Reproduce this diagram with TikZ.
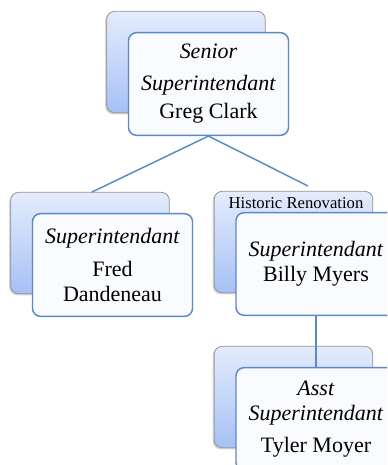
\documentclass[tikz,border=0pt]{standalone}
\usepackage{fontspec}
\setmainfont{Liberation Serif}
\usepackage{xcolor}
\usetikzlibrary{shadows}
\definecolor{edge}{HTML}{5A8AC6}
\definecolor{paleblue}{HTML}{E4ECFC}
\definecolor{deepblue}{HTML}{A6C1F6}
\definecolor{cardfill}{HTML}{FAFBFE}

\begin{document}
\begin{tikzpicture}[x=.75pt,y=-.75pt,
  backbox/.style={draw=black!42,line width=.6pt,rounded corners=6pt,top color=paleblue,bottom color=deepblue,
    minimum width=119pt,minimum height=76pt,drop shadow={shadow xshift=-1.2pt,shadow yshift=-1.2pt,opacity=.35}},
  frontbox/.style={draw=edge,line width=1.1pt,rounded corners=6pt,fill=cardfill,
    minimum width=120pt,minimum height=77pt,align=center,font=\fontsize{16.5}{19}\selectfont,inner sep=2pt},
  link/.style={edge,line width=1.1pt}]
\useasboundingbox (0,0) rectangle (387,465);
\clip (0,0) rectangle (387,465);
% back cards
\foreach \n/\x/\y in {top/208.5/84,fred/112.5/265,billy/316/264,tyler/316/419}
  \node[backbox] (\n b) at (\x-22.5,\y-22) {};
\node[font=\fontsize{12.5}{14}\selectfont] (hist) at (296,203) {Historic Renovation};
% front cards
\node[frontbox] (top) at (208.5,84) {\textit{Senior}\\[5pt]\textit{Superintendant}\\[2pt]Greg Clark};
\node[frontbox] (fred) at (112.5,265) {\textit{Superintendant}\\[6pt]Fred\\Dandeneau};
\node[frontbox] (billy) at (316,264) {\textit{Superintendant}\\Billy Myers};
\node[frontbox] (tyler) at (316,419) {\textit{Asst}\\\textit{Superintendant}\\[5pt]Tyler Moyer};
% connectors
\coordinate (fredend) at (92,192);
\coordinate (billyend) at (308,186);
\draw[link] (fredend) -- (top.south) -- (billyend);
\draw[link] (billy.south) -- (tyler.north);
\end{tikzpicture}
\end{document}
